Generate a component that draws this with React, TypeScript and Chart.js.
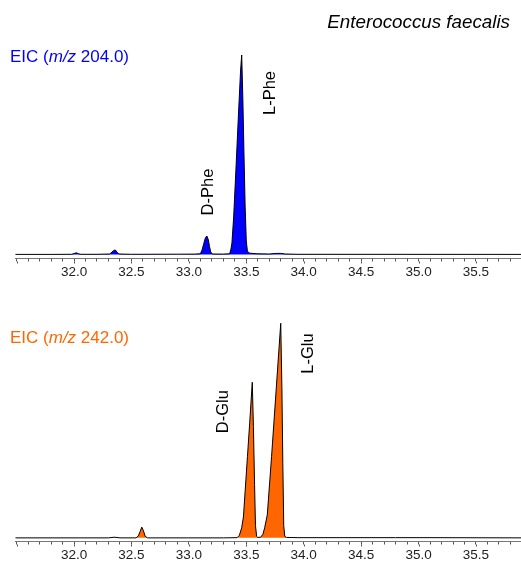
import React, { useEffect, useRef } from "react";
import { Chart, registerables } from "chart.js";

Chart.register(...registerables);

const FONT = '"Liberation Sans", Arial, Helvetica, sans-serif';

// X-axis range (retention time, min)
const xMin = 31.486;
const xMax = 35.892;

// Top trace: EIC m/z 204.0 (Phe), intensity as % of L-Phe apex
const pheTime = [31.49, 31.8, 31.98, 32.0, 32.02, 32.04, 32.06, 32.2, 32.31, 32.33, 32.345, 32.36, 32.375, 32.39, 32.5, 32.9, 33.05, 33.1, 33.115, 33.13, 33.145, 33.157, 33.17, 33.18, 33.19, 33.205, 33.3, 33.355, 33.365, 33.375, 33.39, 33.41, 33.43, 33.45, 33.46, 33.47, 33.48, 33.49, 33.5, 33.51, 33.53, 33.6, 33.7, 33.76, 33.8, 33.84, 33.95, 35.9];
const pheInt = [0.3, 0.3, 0.35, 0.7, 1.1, 0.6, 0.35, 0.35, 0.5, 1.4, 2.3, 2.5, 1.4, 0.5, 0.35, 0.4, 0.45, 0.6, 2.5, 5.8, 8.8, 9.5, 7.5, 4.2, 1.5, 0.5, 0.45, 0.6, 2.5, 6, 19, 43, 68, 92, 100, 78, 50, 24, 7, 1.8, 0.9, 0.6, 0.5, 0.8, 0.8, 0.5, 0.35, 0.3];

// Bottom trace: EIC m/z 242.0 (Glu), intensity as % of L-Glu apex
const gluTime = [31.49, 32.3, 32.35, 32.4, 32.54, 32.56, 32.575, 32.59, 32.605, 32.62, 32.64, 33.0, 33.3, 33.42, 33.44, 33.46, 33.475, 33.49, 33.51, 33.53, 33.552, 33.562, 33.572, 33.58, 33.59, 33.6, 33.625, 33.645, 33.66, 33.683, 33.72, 33.76, 33.8, 33.81, 33.818, 33.826, 33.835, 33.85, 33.95, 34.8, 35.1, 35.9];
const gluInt = [0.3, 0.3, 0.6, 0.3, 0.3, 1.2, 3.2, 5.3, 3.5, 1.0, 0.3, 0.3, 0.3, 0.4, 1.5, 5, 10, 22, 38, 54, 72.6, 52, 25, 6, 1, 0.5, 0.6, 2, 5, 11, 38, 69, 100, 70, 35, 6, 1, 0.5, 0.4, 0.4, 0.4, 0.3];

// Tick labels shown every 0.5 min
const tickLabels = ["32.0", "32.5", "33.0", "33.5", "34.0", "34.5", "35.0", "35.5"];

const BLUE = "rgb(0,0,255)";
const ORANGE = "rgb(255,102,0)";

type Part = [string, boolean];

function drawRich(ctx: CanvasRenderingContext2D, x: number, y: number, parts: Part[], size: number, color: string) {
  let cx = x;
  ctx.fillStyle = color;
  ctx.textAlign = "left";
  ctx.textBaseline = "alphabetic";
  for (const [t, it] of parts) {
    ctx.font = `${it ? "italic " : ""}${size}px ${FONT}`;
    ctx.fillText(t, cx, y);
    cx += ctx.measureText(t).width;
  }
}

function drawVertical(ctx: CanvasRenderingContext2D, text: string, x: number, y: number, size: number) {
  ctx.save();
  ctx.translate(x, y);
  ctx.rotate(-Math.PI / 2);
  ctx.font = `${size}px ${FONT}`;
  ctx.fillStyle = "#000";
  ctx.textAlign = "center";
  ctx.textBaseline = "alphabetic";
  ctx.fillText(text, 0, 0);
  ctx.restore();
}

interface PanelProps {
  time: number[];
  inten: number[];
  fill: string;
  yMin: number;
  yMax: number;
  top: number;
  eic: string;
  eicY: number;
  color: string;
  title?: string;
  peaks: { text: string; x: number; y: number }[];
}

function Panel(p: PanelProps) {
  const ref = useRef<HTMLCanvasElement>(null);
  useEffect(() => {
    const canvas = ref.current!;
    const textPlugin = {
      id: "texts",
      afterDraw(chart: any) {
        const ctx: CanvasRenderingContext2D = chart.ctx;
        const xs = chart.scales.x;
        const bottom = chart.chartArea.bottom;
        ctx.save();
        // longer major ticks
        ctx.strokeStyle = "#555";
        ctx.lineWidth = 1;
        for (const t of xs.ticks) {
          const v = t.value;
          if (Math.abs(v * 2 - Math.round(v * 2)) < 1e-6) {
            const px = Math.round(xs.getPixelForValue(v)) + 0.5;
            ctx.beginPath();
            ctx.moveTo(px, bottom + 3);
            ctx.lineTo(px, bottom + 5);
            ctx.stroke();
          }
        }
        if (p.title) {
          ctx.font = `italic 18.8px ${FONT}`;
          ctx.fillStyle = "#000";
          ctx.textAlign = "right";
          ctx.textBaseline = "alphabetic";
          ctx.fillText(p.title, 510, 28);
        }
        drawRich(ctx, 10, p.eicY, [["EIC (", false], ["m/z", true], [" " + p.eic + ")", false]], 17, p.color);
        for (const pk of p.peaks) {
          drawVertical(ctx, pk.text, xs.getPixelForValue(pk.x), pk.y, 16.5);
        }
        ctx.restore();
      },
    };
    const chart = new Chart(canvas, {
      type: "line",
      data: {
        datasets: [
          {
            data: p.time.map((x, k) => ({ x, y: p.inten[k] })),
            borderColor: "#000",
            borderWidth: 1,
            backgroundColor: p.fill,
            fill: { value: 0.3 },
            pointRadius: 0,
            tension: 0,
          },
        ],
      },
      options: {
        animation: false,
        responsive: false,
        devicePixelRatio: 1,
        layout: { padding: { left: 15, right: 0, top: 20, bottom: 1.3 } },
        plugins: { legend: { display: false }, tooltip: { enabled: false }, title: { display: false } },
        scales: {
          x: {
            type: "linear",
            min: xMin,
            max: xMax,
            border: { display: true, color: "#777", width: 1 },
            grid: { display: true, drawOnChartArea: false, drawTicks: true, tickLength: 3, tickColor: "#555" },
            ticks: {
              stepSize: 0.1,
              includeBounds: false,
              autoSkip: false,
              maxRotation: 0,
              padding: 3,
              color: "#222",
              font: { family: FONT, size: 13.5 },
              callback: (v: any) => {
                const s = Number(v).toFixed(1);
                return tickLabels.includes(s) && Math.abs(v * 2 - Math.round(v * 2)) < 1e-6 ? s : "";
              },
            },
          },
          y: { display: false, min: p.yMin, max: p.yMax },
        },
      },
      plugins: [textPlugin],
    });
    return () => chart.destroy();
  }, []);
  return (
    <canvas
      ref={ref}
      width={521}
      height={285}
      style={{ position: "absolute", left: 0, top: p.top, width: 521, height: 285 }}
    />
  );
}

export default function App() {
  return (
    <div style={{ position: "absolute", left: 0, top: 0, width: 521, height: 567, background: "#fff" }}>
      <Panel
        time={pheTime}
        inten={pheInt}
        fill={BLUE}
        yMin={-1.75}
        yMax={117.5}
        top={0}
        eic="204.0"
        eicY={61.5}
        color={BLUE}
        title="Enterococcus faecalis"
        peaks={[
          { text: "L-Phe", x: 33.752, y: 93 },
          { text: "D-Phe", x: 33.209, y: 192 },
        ]}
      />
      <Panel
        time={gluTime}
        inten={gluInt}
        fill={ORANGE}
        yMin={-1.39}
        yMax={109.43}
        top={283}
        eic="242.0"
        eicY={343.3 - 283}
        color={ORANGE}
        peaks={[
          { text: "D-Glu", x: 33.34, y: 411.7 - 283 },
          { text: "L-Glu", x: 34.085, y: 353.5 - 283 },
        ]}
      />
    </div>
  );
}
